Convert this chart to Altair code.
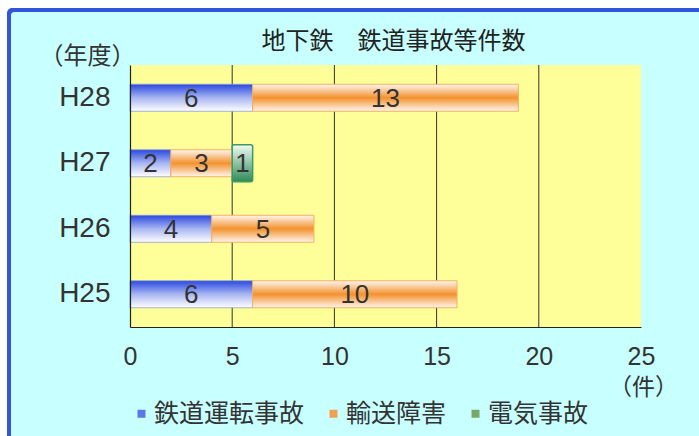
import altair as alt
import pandas as pd

years = ["H28", "H27", "H26", "H25"]
categories = ["鉄道運転事故", "輸送障害", "電気事故"]
railway = [6, 2, 4, 6]
transport = [13, 3, 5, 10]
electric = [0, 1, 0, 0]
grid_ticks = [5, 10, 15, 20]
x_ticks = [0, 5, 10, 15, 20, 25]

FONT_CJK = "Noto Sans CJK JP"
FONT_NUM = "Liberation Sans"
W, H = 511, 262

rows = []
for i, y in enumerate(years):
    for j, (cat, vals) in enumerate(zip(categories, [railway, transport, electric])):
        rows.append({"year": y, "category": cat, "value": vals[i], "order": j})
df = pd.DataFrame(rows)

xscale = alt.Scale(domain=[0, 25], nice=False, zero=True)
yscale = alt.Scale(domain=years, paddingInner=0.0, paddingOuter=0.0)

x_enc = alt.X("x0:Q", scale=xscale,
              axis=alt.Axis(values=x_ticks, grid=False, ticks=False, domain=True,
                            domainColor="#222", domainWidth=1.2, labelFlush=False,
                            labelFont=FONT_NUM, labelFontSize=25, labelColor="#333",
                            labelPadding=17, title="（件）", titleFont=FONT_CJK,
                            titleFontSize=23, titleFontWeight="normal", titleColor="#333",
                            titleX=W + 2, titleY=49, titleAlign="center", zindex=1))
y_enc = alt.Y("year:N", scale=yscale, sort=years,
              axis=alt.Axis(ticks=False, domain=True, domainColor="#222", domainWidth=1.2,
                            labelFont=FONT_NUM, labelFontSize=28, labelColor="#333",
                            labelPadding=20, title="（年度）", titleFont=FONT_CJK,
                            titleFontSize=24, titleFontWeight="normal", titleColor="#333",
                            titleAngle=0, titleX=-43, titleY=-9, titleAlign="center",
                            titleBaseline="middle", zindex=1))

frame_border = alt.Chart(pd.DataFrame({"a": [0]})).mark_rect(
    fill="#3355dd", cornerRadius=5
).encode(x=alt.value(-123), x2=alt.value(700), y=alt.value(-57), y2=alt.value(500))
frame_fill = alt.Chart(pd.DataFrame({"a": [0]})).mark_rect(
    fill="#c8ffff", cornerRadius=3
).encode(x=alt.value(-119), x2=alt.value(700), y=alt.value(-53), y2=alt.value(500))

plot_bg = alt.Chart(pd.DataFrame({"a": [0]})).mark_rect(fill="#ffff99").encode(
    x=alt.datum(0, scale=xscale), x2=alt.datum(25), y=alt.value(0), y2=alt.value(H))

grid = alt.Chart(pd.DataFrame({"g": grid_ticks})).mark_rule(color="#333", strokeWidth=1).encode(
    x=alt.X("g:Q", scale=xscale), y=alt.value(0), y2=alt.value(H))

base = alt.Chart(df).transform_stack(
    stack="value", groupby=["year"], as_=["x0", "x1"], sort=[alt.SortField("order")]
)

grad_blue = alt.LinearGradient(gradient="linear", x1=0, x2=0, y1=0, y2=1, stops=[
    alt.GradientStop(offset=0, color="#2a48e0"),
    alt.GradientStop(offset=0.5, color="#a8b6f2"),
    alt.GradientStop(offset=1, color="#ffffff")])
grad_orange = alt.LinearGradient(gradient="linear", x1=0, x2=0, y1=0, y2=1, stops=[
    alt.GradientStop(offset=0, color="#fff6f0"),
    alt.GradientStop(offset=0.5, color="#f3922e"),
    alt.GradientStop(offset=1, color="#fff6f0")])
grad_green = alt.LinearGradient(gradient="linear", x1=0, x2=0, y1=0, y2=1, stops=[
    alt.GradientStop(offset=0, color="#f2faf4"),
    alt.GradientStop(offset=1, color="#2e8a58")])

bar_blue = base.transform_filter(alt.datum.category == categories[0]).mark_bar(
    color=grad_blue, size=27, stroke="#8a9ad8", strokeWidth=0.8
).encode(x=x_enc, x2="x1:Q", y=y_enc)
bar_orange = base.transform_filter(alt.datum.category == categories[1]).mark_bar(
    color=grad_orange, size=27, stroke="#f4b060", strokeWidth=1
).encode(x=x_enc, x2="x1:Q", y=y_enc)
bar_green = base.transform_filter(
    (alt.datum.category == categories[2]) & (alt.datum.value > 0)
).mark_bar(color=grad_green, size=37, stroke="#3a9a60", strokeWidth=1.5, cornerRadius=2
).encode(x=x_enc, x2="x1:Q", y=y_enc)

labels = base.transform_filter(alt.datum.value > 0).transform_calculate(
    mid="(datum.x0 + datum.x1) / 2"
).mark_text(font=FONT_NUM, fontSize=26, color="#333", baseline="middle", dy=1).encode(
    x=alt.X("mid:Q", scale=xscale), y=y_enc, text="value:Q")

legend_layer = base.mark_bar(opacity=0).encode(
    x=x_enc, x2="x1:Q", y=y_enc,
    color=alt.Color("category:N", sort=categories,
                    scale=alt.Scale(domain=categories, range=["#5a78e6", "#f3a050", "#78a868"]),
                    legend=alt.Legend(orient="none", legendX=-1, legendY=336,
                                      direction="horizontal", title=None,
                                      symbolType="square", symbolSize=64, symbolOpacity=1,
                                      symbolStrokeWidth=0,
                                      labelFont=FONT_CJK, labelFontSize=25, labelColor="#333",
                                      labelOffset=0, columnPadding=16, labelLimit=300)))

chart = alt.layer(frame_border, frame_fill, plot_bg, grid, bar_blue, bar_orange, bar_green,
                  labels, legend_layer).properties(
    width=W, height=H,
    title=alt.TitleParams("地下鉄　鉄道事故等件数", font=FONT_CJK, fontSize=24, frame="group",
                          fontWeight="normal", color="#222", anchor="middle", dx=8, offset=-46),
    padding={"left": 130, "top": 65, "right": 58, "bottom": 109},
    autosize=alt.AutoSizeParams(type="none"),
    background="white",
).configure_view(stroke=None)

chart.save("out.html", embed_options={"renderer": "svg", "actions": False})
